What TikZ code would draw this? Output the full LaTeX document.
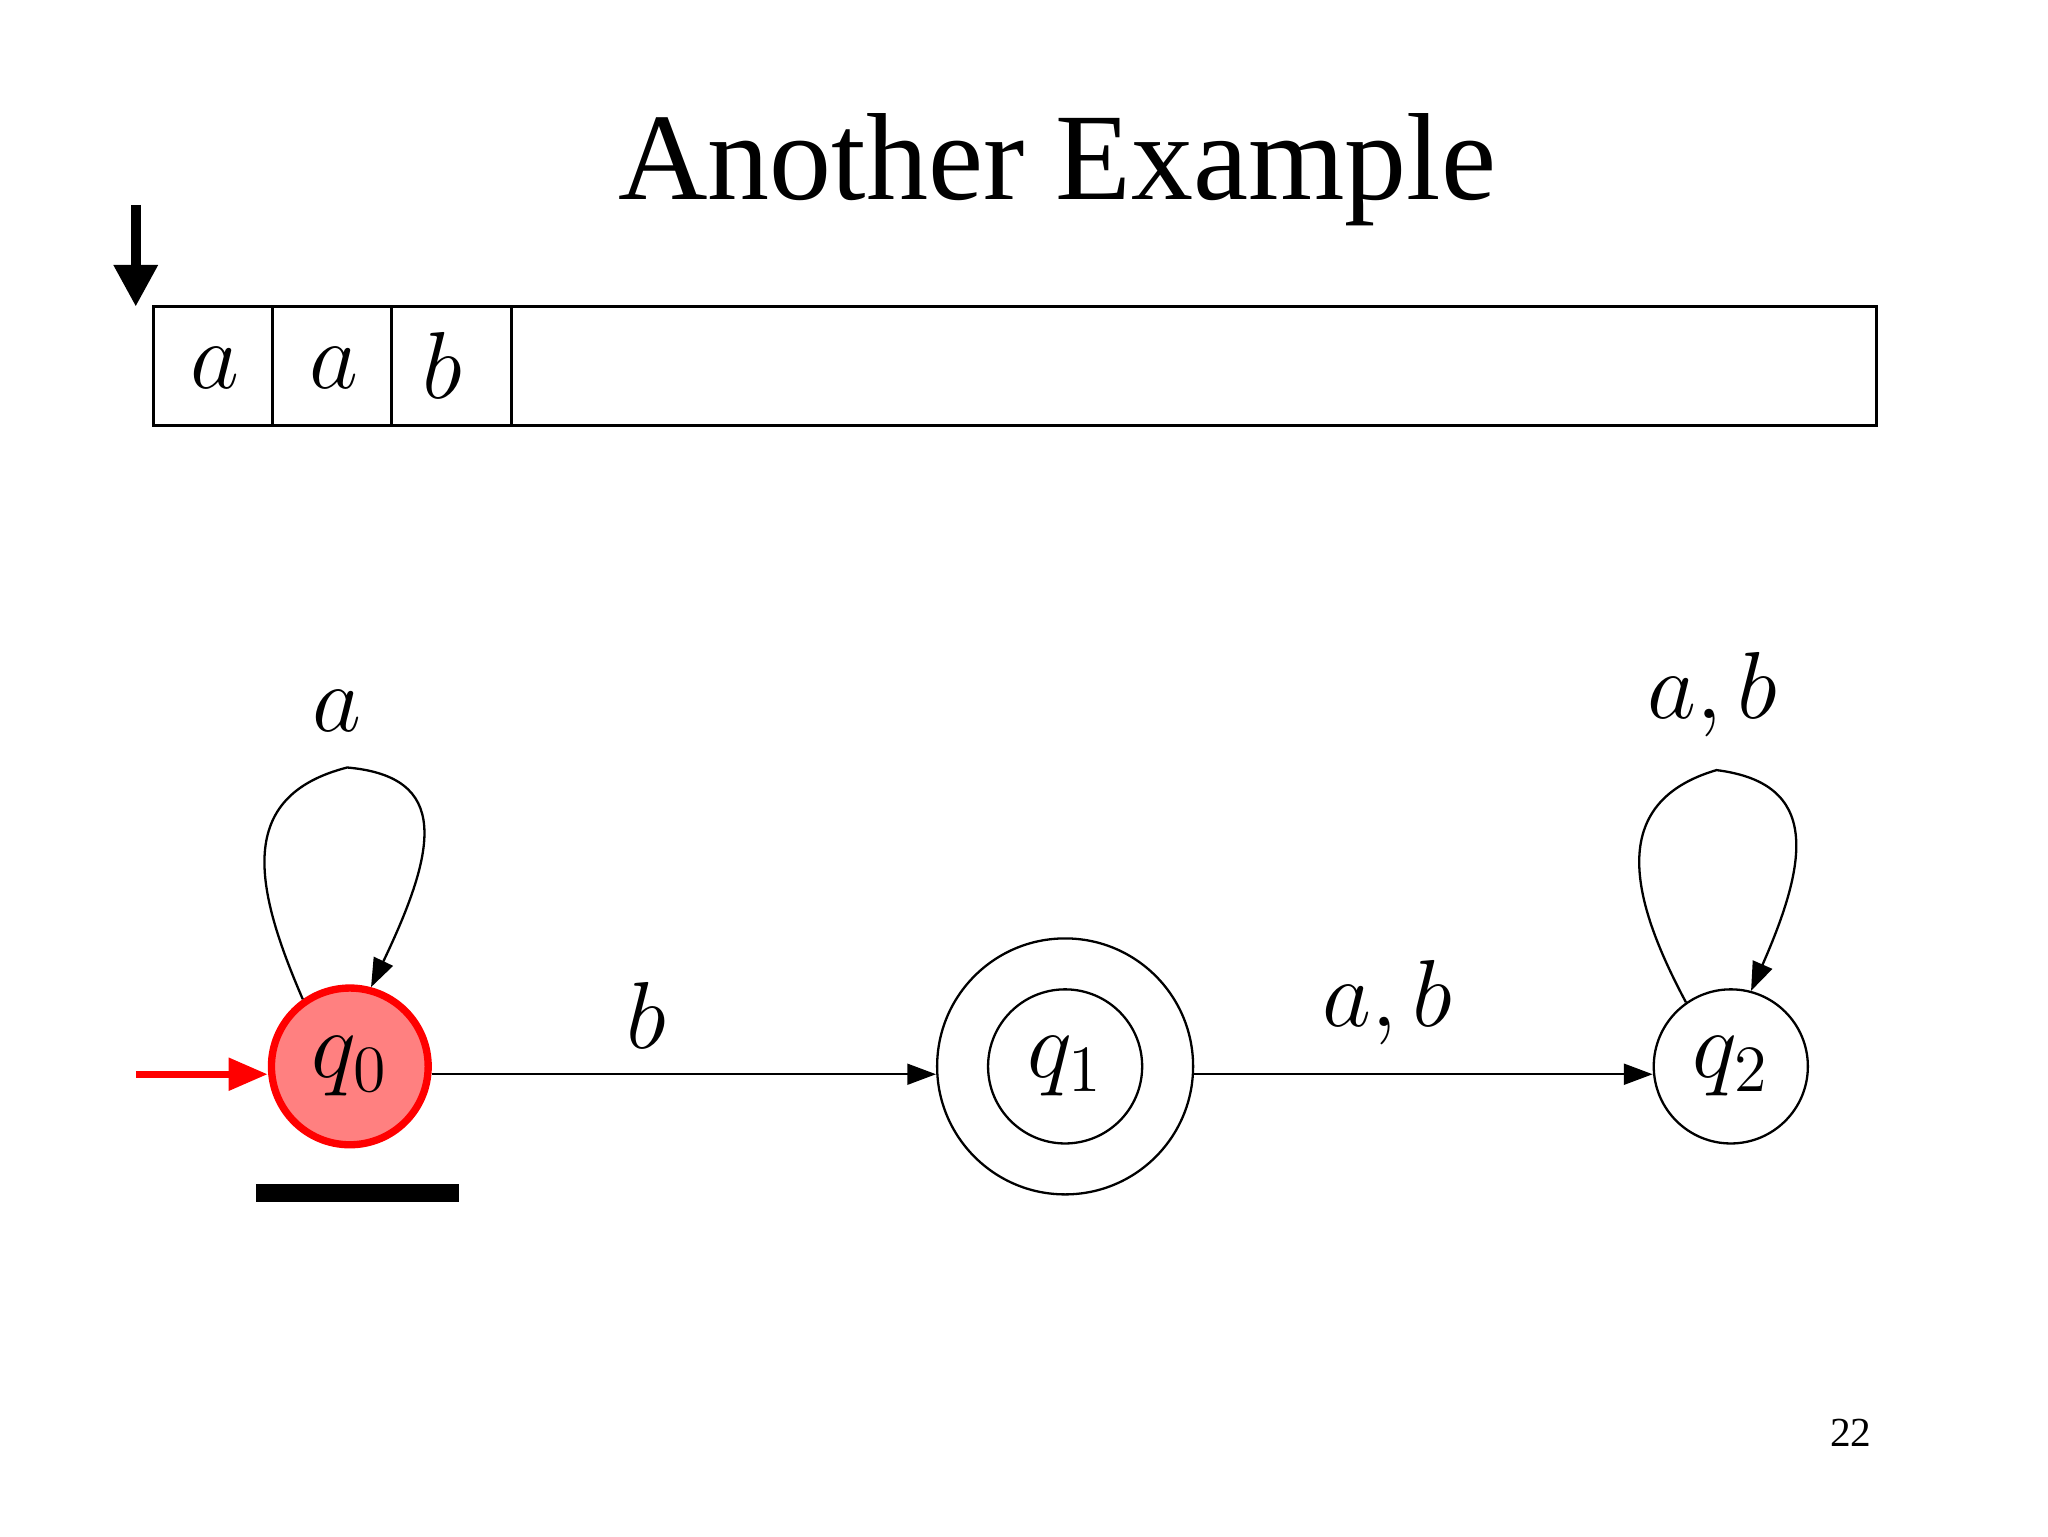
\documentclass[tikz,border=0pt]{standalone}
\usepackage{fontspec}
\setmainfont{Liberation Serif}
\usetikzlibrary{arrows.meta}
\begin{document}
\begin{tikzpicture}[x=0.01cm,y=-0.01cm,
  sym/.style={font=\fontsize{22}{24}\selectfont},
  tip/.style={-{Triangle[length=0.22cm,width=0.16cm]}},
  edge/.style={line width=0.5pt,tip}]
\useasboundingbox (0,0) rectangle (1569,1177);
\node[font=\fontsize{27}{30}\selectfont] (title) at (810,130) {Another Example};
\coordinate (h1) at (104,157); \coordinate (h2) at (104,235);
\draw[line width=2.2pt,-{Triangle[length=0.32cm,width=0.32cm]}] (h1) -- (h2);
\node[draw,line width=0.6pt,minimum width=13.19cm,minimum height=0.91cm,inner sep=0pt] (tape) at (777.5,280.5) {};
\foreach \x in {209,300,392}{\draw[line width=0.6pt] (\x,235) -- (\x,326);}
\node[sym] (c1) at (165,282) {$a$};
\node[sym] (c2) at (256,282) {$a$};
\node[sym] (c3) at (339,280) {$b$};
% states
\node[circle,draw=red,fill=red!50,line width=1.6pt,minimum size=1.2cm,inner sep=0pt,sym] (q0) at (268,817) {$q_0$};
\node[circle,draw,line width=0.5pt,minimum size=1.96cm,inner sep=0pt] (q1o) at (816,817) {};
\node[circle,draw,line width=0.5pt,minimum size=1.18cm,inner sep=0pt,sym] (q1) at (816,817) {$q_1$};
\node[circle,draw,line width=0.5pt,minimum size=1.18cm,inner sep=0pt,sym] (q2) at (1326,817) {$q_2$};
\coordinate (init) at (104,823);
\draw[red,line width=1.6pt,-{Triangle[length=0.3cm,width=0.24cm]}] (init) -- (q0.west |- init);
\draw[line width=4pt] (196,914) -- (352,914);
\draw[edge] (q0.east |- 0,823) -- (q1o.west |- 0,823);
\draw[edge] (q1o.east |- 0,823) -- (q2.west |- 0,823);
\node[sym] (lb) at (495,778) {$b$};
\node[sym] (lab) at (1063,768) {$a,b$};
\draw[edge] (q0.125) .. controls (195,680) and (180,610) .. (266,588) .. controls (345,595) and (335,650) .. (q0.75);
\node[sym] (la) at (258,545) {$a$};
\draw[edge] (q2.125) .. controls (1250,690) and (1230,615) .. (1315,590) .. controls (1395,600) and (1385,660) .. (q2.75);
\node[sym] (lab2) at (1312,532) {$a,b$};
\node[font=\fontsize{9}{10}\selectfont] (pg) at (1418,1098) {22};
\end{tikzpicture}
\end{document}
